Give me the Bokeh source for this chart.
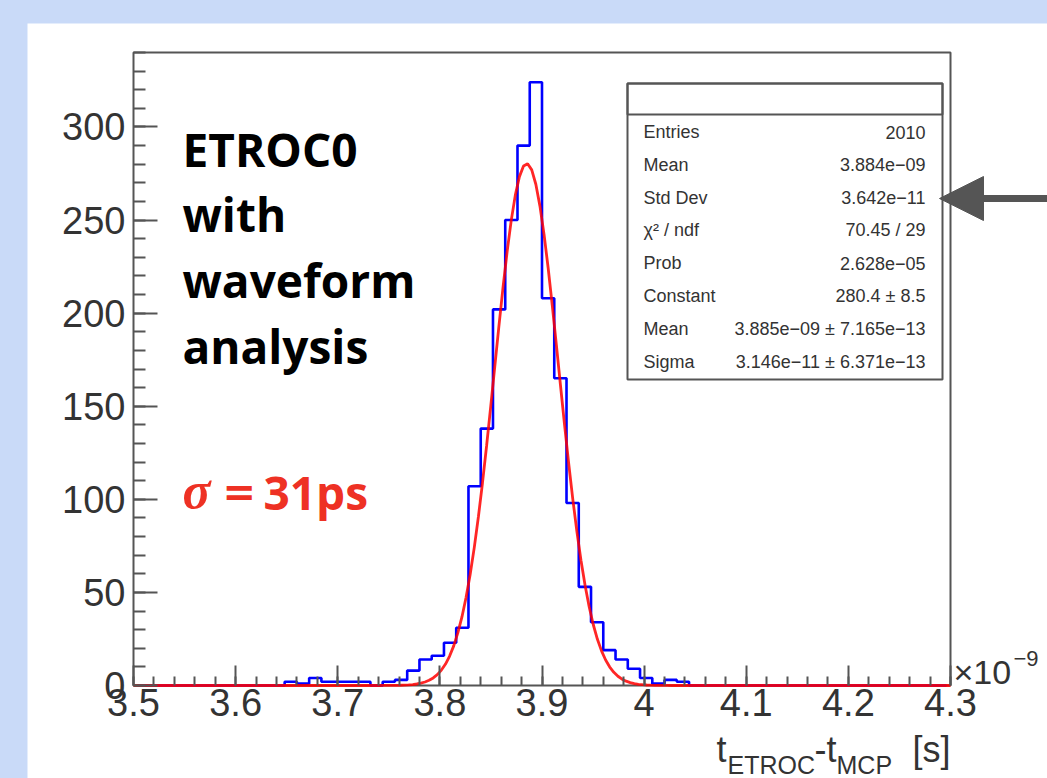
import numpy as np
from bokeh.plotting import figure
from bokeh.models import (Range1d, FixedTicker, CustomJSTickFormatter, Label,
                          BoxAnnotation, Arrow, NormalHead)
from bokeh.embed import file_html
from bokeh.resources import INLINE

# ---------------- data (x in units of 1e-9 s) ----------------
bin_start = 3.504
bin_width = 0.012
counts = [0, 0, 0, 0, 0, 0, 0, 0, 0, 0, 0, 0,
          2, 1, 4, 2, 2, 2, 2, 0, 2, 3,
          8, 14, 16, 23, 31, 107, 138, 202, 250, 290, 324,
          208, 165, 98, 53, 34, 19, 14, 9, 4, 1, 3, 2,
          0, 0, 0, 0, 0, 0, 0, 0, 0, 0, 0, 0, 0, 0, 0, 0, 0, 0, 0, 0, 0]

fit_constant = 280.4
fit_mean = 3.885
fit_sigma = 0.03146

x_ticks = [3.5, 3.6, 3.7, 3.8, 3.9, 4.0, 4.1, 4.2, 4.3]
x_tick_labels = ["3.5", "3.6", "3.7", "3.8", "3.9", "4", "4.1", "4.2", "4.3"]
y_ticks = [0, 50, 100, 150, 200, 250, 300]

stats_names = ["Entries", "Mean", "Std Dev", "\u03c7\u00b2 / ndf", "Prob",
               "Constant", "Mean", "Sigma"]
stats_values = ["2010", "3.884e\u221209", "3.642e\u221211", "70.45 / 29",
                "2.628e\u221205", "280.4 \u00b1 8.5",
                "3.885e\u221209 \u00b1 7.165e\u221213",
                "3.146e\u221211 \u00b1 6.371e\u221213"]

note_lines = ["ETROC0", "with", "waveform", "analysis"]

# ---------------- geometry helpers (page pixels -> data) ----------------
X0, X1, Y0, Y1 = 3.5, 4.3, 0, 340          # the plotted box
BL, BR, BT, BB = 133, 950, 52, 685          # its page-pixel edges


def fx(px):
    return X0 + (px - BL) * (X1 - X0) / (BR - BL)


def fy(py):
    return Y0 + (BB - py) * (Y1 - Y0) / (BB - BT)


def label(px, py, text, font="Liberation Sans", size=18, color="#333333",
          align="left", style="normal"):
    return Label(x=fx(px), y=fy(py), text=text, text_font=font,
                 text_font_size=f"{size}px", text_color=color, text_align=align,
                 text_baseline="middle", text_font_style=style)


# the frame covers the whole white panel (page x 27..1047, y 23..778), so every text
# lies inside it; the axes are pinned to the box edges with fixed_location
p = figure(width=1020, height=755,
           x_range=Range1d(fx(27), fx(1047)), y_range=Range1d(fy(778), fy(23)),
           output_backend="svg", toolbar_location=None,
           min_border_left=0, min_border_right=0, min_border_top=0, min_border_bottom=0,
           background_fill_color="white", border_fill_color="white")
p.xgrid.visible = False
p.ygrid.visible = False
p.outline_line_color = None

# plot box (drawn beneath the data)
p.add_layout(BoxAnnotation(left=X0, right=X1, bottom=Y0, top=Y1, fill_alpha=0.0,
                           line_color="#555555", line_width=2, line_alpha=1.0, level="underlay"))

# histogram
edges = [bin_start + i * bin_width for i in range(len(counts) + 1)]
p.step(x=edges, y=counts + [counts[-1]], mode="after", line_color="#0000ff", line_width=2.6)

# gaussian fit from its fitted parameters
xs = np.linspace(X0, X1, 200)
ys = fit_constant * np.exp(-0.5 * ((xs - fit_mean) / fit_sigma) ** 2)
p.line(xs, ys, line_color="#ff0000", line_width=2.8, line_alpha=0.85)

# axes
minor_x = [round(3.5 + 0.02 * i, 4) for i in range(41)]
p.xaxis.fixed_location = Y0
p.yaxis.fixed_location = X0
p.xaxis.ticker = FixedTicker(ticks=x_ticks, minor_ticks=minor_x)
p.xaxis.formatter = CustomJSTickFormatter(
    args=dict(xt=x_ticks, xl=x_tick_labels),
    code="const i = xt.findIndex(t => Math.abs(t - tick) < 1e-6); return i >= 0 ? xl[i] : '';")
p.yaxis.ticker = FixedTicker(ticks=y_ticks, minor_ticks=list(range(0, 341, 10)))
for ax in (p.xaxis[0], p.yaxis[0]):
    ax.axis_line_color = None
    ax.major_tick_line_color = "#555555"
    ax.major_tick_line_width = 2
    ax.minor_tick_line_color = "#555555"
    ax.minor_tick_line_width = 2
    ax.major_tick_out = 0
    ax.minor_tick_out = 0
    ax.major_label_text_font = "Liberation Sans"
    ax.major_label_text_font_size = "38px"
    ax.major_label_text_color = "#333333"
p.xaxis.major_tick_in = 20
p.xaxis.minor_tick_in = 9
p.xaxis.major_label_standoff = 3
p.yaxis.major_tick_in = 24
p.yaxis.minor_tick_in = 12
p.yaxis.major_label_standoff = 8

# stats box
p.add_layout(BoxAnnotation(left=fx(627), right=fx(942), top=fy(83), bottom=fy(379),
                           fill_color="white", fill_alpha=1.0, line_color="#555555", line_width=2,
                           line_alpha=1.0))
p.add_layout(BoxAnnotation(left=fx(627), right=fx(942), top=fy(83), bottom=fy(114),
                           fill_alpha=0.0, line_color="#555555", line_width=2, line_alpha=1.0))
for i, (nm, val) in enumerate(zip(stats_names, stats_values)):
    yy = 131.5 + i * 32.8
    p.add_layout(label(643, yy, nm, size=18))
    p.add_layout(label(925, yy, val, size=18, align="right"))

# annotation text
for line, yc in zip(note_lines, [148, 213, 279, 345]):
    p.add_layout(label(182, yc, line, font="Open Sans", size=46, color="black", style="bold"))
red = "#ee3124"
p.add_layout(label(182, 490, "\u03c3", font="Liberation Serif", size=52, color=red,
                   style="bold italic"))
p.add_layout(label(222, 491, "=", font="DejaVu Sans", size=40, color=red, style="bold"))
p.add_layout(label(263, 491, "31ps", font="Open Sans", size=46, color=red, style="bold"))

# x-axis title with subscripts, and the x10^-9 exponent
B, S = 36, 25
p.add_layout(label(716, 749, "t", size=B))
p.add_layout(label(727, 764, "ETROC", size=S))
p.add_layout(label(814, 749, "-t", size=B))
p.add_layout(label(836, 764, "MCP", size=S))
p.add_layout(label(950, 749, "[s]", size=B, align="right"))
p.add_layout(label(953, 671, "\u00d710", size=34))
p.add_layout(label(1013, 658, "\u22129", size=22))

# arrow pointing at the Std Dev row
p.add_layout(Arrow(end=NormalHead(size=44, fill_color="#555555", line_color="#555555"),
                   x_start=fx(1047), y_start=fy(198), x_end=fx(939), y_end=fy(198),
                   line_color="#555555", line_width=7))

html = file_html(p, INLINE, title="ETROC0 timing")
html = html.replace("</head>",
                    "<style>html,body{margin:0;padding:0;background:#c9daf8;overflow:hidden;}"
                    "body{padding:23px 0 0 27px;}</style></head>", 1)
open("out.html", "w").write(html)
